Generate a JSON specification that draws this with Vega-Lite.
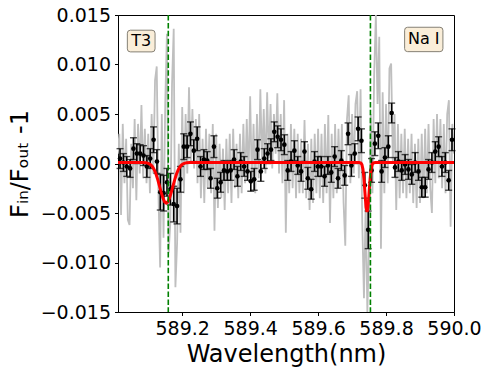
{
  "$schema": "https://vega.github.io/schema/vega-lite/v6.json",
  "autosize": {"type": "none"},
  "padding": {"left": 118, "top": 15, "right": 35, "bottom": 60},
  "width": 336,
  "height": 297,
  "background": "white",
  "datasets": {
    "spec": [
      {"w":589.010,"v":0.0010},{"w":589.015,"v":0.0030},{"w":589.020,"v":-0.0052},{"w":589.025,"v":0.0040},{"w":589.030,"v":-0.0020},
      {"w":589.035,"v":0.0025},{"w":589.040,"v":-0.0057},{"w":589.045,"v":-0.0062},{"w":589.050,"v":0.0020},{"w":589.055,"v":-0.0025},
      {"w":589.060,"v":0.0045},{"w":589.065,"v":-0.0037},{"w":589.070,"v":0.0040},{"w":589.075,"v":-0.0010},{"w":589.080,"v":0.0059},
      {"w":589.085,"v":-0.0015},{"w":589.090,"v":0.0035},{"w":589.095,"v":-0.0020},{"w":589.100,"v":0.0030},{"w":589.105,"v":-0.0030},
      {"w":589.110,"v":0.0050},{"w":589.115,"v":-0.0010},{"w":589.120,"v":0.0084},{"w":589.125,"v":0.0098},{"w":589.130,"v":-0.0030},
      {"w":589.135,"v":-0.0105},{"w":589.140,"v":0.0050},{"w":589.145,"v":-0.0075},{"w":589.150,"v":0.0060},{"w":589.155,"v":0.0131},
      {"w":589.160,"v":-0.0090},{"w":589.165,"v":-0.0060},{"w":589.170,"v":0.0080},{"w":589.175,"v":0.0136},{"w":589.180,"v":-0.0125},
      {"w":589.185,"v":-0.0080},{"w":589.190,"v":0.0020},{"w":589.195,"v":-0.0070},{"w":589.200,"v":0.0057},{"w":589.205,"v":-0.0030},
      {"w":589.210,"v":0.0050},{"w":589.215,"v":-0.0010},{"w":589.220,"v":0.0077},{"w":589.225,"v":0.0000},{"w":589.230,"v":0.0055},
      {"w":589.235,"v":-0.0005},{"w":589.240,"v":0.0045},{"w":589.245,"v":-0.0020},{"w":589.250,"v":0.0050},{"w":589.255,"v":-0.0035},
      {"w":589.260,"v":0.0025},{"w":589.265,"v":-0.0040},{"w":589.270,"v":0.0035},{"w":589.275,"v":-0.0025},{"w":589.280,"v":0.0030},
      {"w":589.285,"v":-0.0030},{"w":589.290,"v":0.0040},{"w":589.295,"v":-0.0068},{"w":589.300,"v":0.0030},{"w":589.305,"v":-0.0045},
      {"w":589.310,"v":0.0020},{"w":589.315,"v":-0.0035},{"w":589.320,"v":0.0015},{"w":589.325,"v":-0.0047},{"w":589.330,"v":0.0025},
      {"w":589.335,"v":-0.0030},{"w":589.340,"v":0.0030},{"w":589.345,"v":-0.0040},{"w":589.350,"v":0.0035},{"w":589.355,"v":-0.0025},
      {"w":589.360,"v":0.0020},{"w":589.365,"v":-0.0035},{"w":589.370,"v":0.0030},{"w":589.375,"v":-0.0030},{"w":589.380,"v":0.0040},
      {"w":589.385,"v":-0.0020},{"w":589.390,"v":0.0045},{"w":589.395,"v":-0.0015},{"w":589.400,"v":0.0068},{"w":589.405,"v":-0.0020},
      {"w":589.410,"v":0.0040},{"w":589.415,"v":-0.0030},{"w":589.420,"v":0.0050},{"w":589.425,"v":-0.0015},{"w":589.430,"v":0.0075},
      {"w":589.435,"v":0.0000},{"w":589.440,"v":0.0055},{"w":589.445,"v":-0.0010},{"w":589.450,"v":0.0072},{"w":589.455,"v":0.0005},
      {"w":589.460,"v":0.0060},{"w":589.465,"v":-0.0005},{"w":589.470,"v":0.0050},{"w":589.475,"v":0.0010},{"w":589.480,"v":0.0071},
      {"w":589.485,"v":-0.0010},{"w":589.490,"v":0.0050},{"w":589.495,"v":-0.0020},{"w":589.500,"v":0.0064},{"w":589.505,"v":-0.0070},
      {"w":589.510,"v":0.0030},{"w":589.515,"v":-0.0030},{"w":589.520,"v":0.0040},{"w":589.525,"v":-0.0025},{"w":589.530,"v":0.0035},
      {"w":589.535,"v":-0.0035},{"w":589.540,"v":0.0030},{"w":589.545,"v":-0.0030},{"w":589.550,"v":0.0025},{"w":589.555,"v":-0.0030},
      {"w":589.560,"v":0.0044},{"w":589.565,"v":-0.0035},{"w":589.570,"v":0.0020},{"w":589.575,"v":-0.0047},{"w":589.580,"v":0.0025},
      {"w":589.585,"v":-0.0040},{"w":589.590,"v":0.0030},{"w":589.595,"v":-0.0030},{"w":589.600,"v":0.0035},{"w":589.605,"v":-0.0035},
      {"w":589.610,"v":0.0030},{"w":589.615,"v":-0.0040},{"w":589.620,"v":0.0040},{"w":589.625,"v":-0.0030},{"w":589.630,"v":0.0049},
      {"w":589.635,"v":-0.0060},{"w":589.640,"v":0.0030},{"w":589.645,"v":-0.0035},{"w":589.650,"v":0.0040},{"w":589.655,"v":-0.0030},
      {"w":589.660,"v":0.0035},{"w":589.665,"v":-0.0025},{"w":589.670,"v":0.0040},{"w":589.675,"v":-0.0040},{"w":589.680,"v":-0.0083},
      {"w":589.685,"v":0.0045},{"w":589.690,"v":0.0069},{"w":589.695,"v":-0.0020},{"w":589.700,"v":0.0050},{"w":589.705,"v":-0.0010},
      {"w":589.710,"v":0.0060},{"w":589.715,"v":0.0073},{"w":589.720,"v":-0.0015},{"w":589.725,"v":0.0075},{"w":589.730,"v":-0.0060},
      {"w":589.735,"v":-0.0136},{"w":589.740,"v":-0.0040},{"w":589.745,"v":-0.0150},{"w":589.750,"v":-0.0080},{"w":589.755,"v":0.0050},
      {"w":589.760,"v":-0.0030},{"w":589.765,"v":0.0090},{"w":589.770,"v":0.0150},{"w":589.775,"v":0.0060},{"w":589.780,"v":0.0128},
      {"w":589.785,"v":-0.0086},{"w":589.790,"v":0.0072},{"w":589.795,"v":-0.0030},{"w":589.800,"v":0.0060},{"w":589.805,"v":-0.0020},
      {"w":589.810,"v":0.0096},{"w":589.815,"v":0.0101},{"w":589.820,"v":0.0000},{"w":589.825,"v":0.0050},{"w":589.830,"v":-0.0047},
      {"w":589.835,"v":0.0040},{"w":589.840,"v":-0.0035},{"w":589.845,"v":0.0030},{"w":589.850,"v":-0.0030},{"w":589.855,"v":0.0035},
      {"w":589.860,"v":-0.0035},{"w":589.865,"v":0.0025},{"w":589.870,"v":-0.0030},{"w":589.875,"v":0.0030},{"w":589.880,"v":-0.0040},
      {"w":589.885,"v":0.0020},{"w":589.890,"v":-0.0045},{"w":589.895,"v":0.0025},{"w":589.900,"v":-0.0040},{"w":589.905,"v":0.0030},
      {"w":589.910,"v":-0.0035},{"w":589.915,"v":0.0035},{"w":589.920,"v":-0.0030},{"w":589.925,"v":0.0040},{"w":589.930,"v":-0.0025},
      {"w":589.935,"v":-0.0050},{"w":589.940,"v":0.0045},{"w":589.945,"v":-0.0020},{"w":589.950,"v":0.0050},{"w":589.955,"v":-0.0015},
      {"w":589.960,"v":0.0045},{"w":589.965,"v":-0.0025},{"w":589.970,"v":0.0040},{"w":589.975,"v":-0.0030},{"w":589.980,"v":0.0050},
      {"w":589.985,"v":0.0064},{"w":589.990,"v":-0.0064},{"w":589.995,"v":0.0040},{"w":590.000,"v":0.0010}
    ],
    "binned": [
      {"w":589.0170,"v":0.0005,"e":0.0010},{"w":589.0269,"v":0.0001,"e":0.0009},{"w":589.0367,"v":-0.0003,"e":0.0010},{"w":589.0466,"v":-0.0005,"e":0.0009},{"w":589.0565,"v":0.0015,"e":0.0011},
      {"w":589.0664,"v":0.0010,"e":0.0010},{"w":589.0762,"v":0.0010,"e":0.0009},{"w":589.0861,"v":0.0008,"e":0.0010},{"w":589.0960,"v":-0.0003,"e":0.0011},{"w":589.1058,"v":0.0005,"e":0.0010},
      {"w":589.1157,"v":0.0024,"e":0.0013},{"w":589.1256,"v":0.0002,"e":0.0012},{"w":589.1354,"v":-0.0029,"e":0.0018},{"w":589.1453,"v":-0.0030,"e":0.0018},{"w":589.1552,"v":-0.0019,"e":0.0014},
      {"w":589.1651,"v":-0.0026,"e":0.0016},{"w":589.1749,"v":-0.0041,"e":0.0018},{"w":589.1848,"v":-0.0043,"e":0.0018},{"w":589.1947,"v":-0.0016,"e":0.0013},{"w":589.2045,"v":0.0017,"e":0.0013},
      {"w":589.2144,"v":0.0017,"e":0.0011},{"w":589.2243,"v":0.0030,"e":0.0012},{"w":589.2341,"v":0.0013,"e":0.0011},{"w":589.2440,"v":0.0025,"e":0.0012},{"w":589.2539,"v":-0.0003,"e":0.0010},
      {"w":589.2638,"v":0.0004,"e":0.0010},{"w":589.2736,"v":0.0003,"e":0.0009},{"w":589.2835,"v":-0.0015,"e":0.0010},{"w":589.2934,"v":0.0017,"e":0.0011},{"w":589.3032,"v":-0.0025,"e":0.0010},
      {"w":589.3131,"v":-0.0019,"e":0.0010},{"w":589.3230,"v":-0.0007,"e":0.0010},{"w":589.3328,"v":-0.0008,"e":0.0009},{"w":589.3427,"v":-0.0007,"e":0.0010},{"w":589.3526,"v":0.0004,"e":0.0010},
      {"w":589.3625,"v":-0.0013,"e":0.0010},{"w":589.3723,"v":0.0002,"e":0.0009},{"w":589.3822,"v":-0.0003,"e":0.0010},{"w":589.3921,"v":-0.0008,"e":0.0009},{"w":589.4019,"v":-0.0018,"e":0.0010},
      {"w":589.4118,"v":-0.0016,"e":0.0011},{"w":589.4217,"v":0.0014,"e":0.0010},{"w":589.4315,"v":-0.0008,"e":0.0010},{"w":589.4414,"v":0.0005,"e":0.0010},{"w":589.4513,"v":0.0010,"e":0.0010},
      {"w":589.4612,"v":0.0014,"e":0.0011},{"w":589.4710,"v":0.0032,"e":0.0010},{"w":589.4809,"v":0.0027,"e":0.0011},{"w":589.4908,"v":0.0024,"e":0.0011},{"w":589.5006,"v":0.0019,"e":0.0010},
      {"w":589.5105,"v":-0.0007,"e":0.0010},{"w":589.5204,"v":0.0002,"e":0.0010},{"w":589.5302,"v":0.0013,"e":0.0010},{"w":589.5401,"v":-0.0002,"e":0.0009},{"w":589.5500,"v":-0.0008,"e":0.0010},
      {"w":589.5599,"v":0.0012,"e":0.0010},{"w":589.5697,"v":-0.0015,"e":0.0011},{"w":589.5796,"v":-0.0026,"e":0.0010},{"w":589.5895,"v":0.0002,"e":0.0010},{"w":589.5993,"v":-0.0003,"e":0.0010},
      {"w":589.6092,"v":-0.0003,"e":0.0010},{"w":589.6191,"v":-0.0013,"e":0.0010},{"w":589.6289,"v":-0.0002,"e":0.0009},{"w":589.6388,"v":-0.0009,"e":0.0010},{"w":589.6487,"v":0.0007,"e":0.0010},
      {"w":589.6586,"v":-0.0015,"e":0.0010},{"w":589.6684,"v":0.0003,"e":0.0010},{"w":589.6783,"v":-0.0012,"e":0.0010},{"w":589.6882,"v":0.0030,"e":0.0011},{"w":589.6980,"v":-0.0002,"e":0.0011},
      {"w":589.7079,"v":0.0010,"e":0.0010},{"w":589.7178,"v":0.0035,"e":0.0012},{"w":589.7276,"v":0.0023,"e":0.0012},{"w":589.7375,"v":-0.0022,"e":0.0013},{"w":589.7474,"v":-0.0067,"e":0.0019},
      {"w":589.7573,"v":-0.0007,"e":0.0012},{"w":589.7671,"v":0.0020,"e":0.0012},{"w":589.7770,"v":0.0028,"e":0.0013},{"w":589.7869,"v":-0.0008,"e":0.0011},{"w":589.7967,"v":0.0006,"e":0.0010},
      {"w":589.8066,"v":0.0017,"e":0.0011},{"w":589.8165,"v":0.0051,"e":0.0010},{"w":589.8263,"v":-0.0004,"e":0.0010},{"w":589.8362,"v":0.0002,"e":0.0010},{"w":589.8461,"v":-0.0007,"e":0.0010},
      {"w":589.8560,"v":-0.0001,"e":0.0010},{"w":589.8658,"v":-0.0006,"e":0.0010},{"w":589.8757,"v":-0.0011,"e":0.0010},{"w":589.8856,"v":0.0001,"e":0.0010},{"w":589.8954,"v":-0.0008,"e":0.0009},
      {"w":589.9053,"v":-0.0024,"e":0.0010},{"w":589.9152,"v":-0.0024,"e":0.0010},{"w":589.9250,"v":-0.0006,"e":0.0010},{"w":589.9349,"v":0.0001,"e":0.0010},{"w":589.9448,"v":0.0012,"e":0.0010},
      {"w":589.9547,"v":0.0017,"e":0.0010},{"w":589.9645,"v":-0.0003,"e":0.0010},{"w":589.9744,"v":0.0001,"e":0.0010},{"w":589.9843,"v":-0.0017,"e":0.0010},{"w":589.9941,"v":0.0024,"e":0.0011}
    ],
    "model": [
      {"w":589.000,"v":0.0001},{"w":589.083,"v":0.0001},{"w":589.093,"v":0.00007},{"w":589.098,"v":0.00004},{"w":589.103,"v":-0.00003},
      {"w":589.108,"v":-0.00015},{"w":589.113,"v":-0.00035},{"w":589.118,"v":-0.00065},{"w":589.123,"v":-0.00108},{"w":589.128,"v":-0.00163},
      {"w":589.133,"v":-0.00226},{"w":589.138,"v":-0.00290},{"w":589.143,"v":-0.00347},{"w":589.148,"v":-0.00386},{"w":589.153,"v":-0.00400},
      {"w":589.158,"v":-0.00386},{"w":589.163,"v":-0.00347},{"w":589.168,"v":-0.00290},{"w":589.173,"v":-0.00226},{"w":589.178,"v":-0.00163},
      {"w":589.183,"v":-0.00108},{"w":589.188,"v":-0.00065},{"w":589.193,"v":-0.00035},{"w":589.198,"v":-0.00015},{"w":589.203,"v":-0.00003},
      {"w":589.208,"v":0.00004},{"w":589.213,"v":0.00007},{"w":589.223,"v":0.0001},
      {"w":589.720,"v":0.0001},{"w":589.726,"v":0.00004},{"w":589.729,"v":-0.00012},{"w":589.732,"v":-0.00059},{"w":589.735,"v":-0.00156},
      {"w":589.738,"v":-0.00300},{"w":589.741,"v":-0.00440},{"w":589.744,"v":-0.00490},{"w":589.747,"v":-0.00440},{"w":589.750,"v":-0.00300},
      {"w":589.753,"v":-0.00156},{"w":589.756,"v":-0.00059},{"w":589.759,"v":-0.00012},{"w":589.762,"v":0.00004},{"w":589.768,"v":0.0001},
      {"w":590.010,"v":0.0001}
    ],
    "lines": [{"w":589.159},{"w":589.754}]
  },
  "encoding": {
    "x": {"field":"w","type":"quantitative","scale":{"domain":[589.011,590.0],"nice":false,"zero":false},
      "axis":{"title":"Wavelength(nm)","values":[589.2,589.4,589.6,589.8,590.0],"format":".1f","titlePadding":4,"labelOverlap":false,"labelFlush":false}},
    "y": {"field":"v","type":"quantitative","scale":{"domain":[-0.015,0.015],"nice":false,"zero":false},
      "axis":{"title":"Fᵢₙ/Fₒᵤₜ -1","values":[-0.015,-0.01,-0.005,0,0.005,0.01,0.015],"format":".3f","titlePadding":8,"labelOverlap":false,"labelFlush":false}}
  },
  "layer": [
    {"data":{"name":"spec"},"mark":{"type":"line","color":"#bfbfbf","strokeWidth":1.8,"clip":true}},
    {"data":{"name":"binned"},"mark":{"type":"errorbar","color":"black","thickness":1.6,"ticks":{"size":7,"thickness":1.4,"color":"black"}},
      "encoding":{"yError":{"field":"e"}}},
    {"data":{"name":"binned"},"mark":{"type":"point","filled":true,"color":"black","size":22,"opacity":1}},
    {"data":{"name":"model"},"mark":{"type":"line","color":"red","strokeWidth":3,"clip":true}},
    {"data":{"name":"lines"},"mark":{"type":"rule","color":"green","strokeWidth":1.6,"strokeDash":[5.5,2.4]},"encoding":{"y":null}},
    {"data":{"values":[{"w":589.0793,"v":0.01237}]},
      "mark":{"type":"point","shape":"M-0.78,-0.783L0.78,-0.783Q1,-0.783,1,-0.566L1,0.566Q1,0.783,0.78,0.783L-0.78,0.783Q-1,0.783,-1,0.566L-1,-0.566Q-1,-0.783,-0.78,-0.783Z","size":767,"filled":true,"fill":"#faeed9","stroke":"#858075","strokeWidth":1,"opacity":1}},
    {"data":{"values":[{"w":589.0793,"v":0.01237,"label":"T3"}]},
      "mark":{"type":"text","font":"DejaVu Sans","fontSize":16,"color":"black","align":"center","baseline":"middle"},
      "encoding":{"text":{"field":"label"}}},
    {"data":{"values":[{"w":589.911,"v":0.01253}]},
      "mark":{"type":"point","shape":"M-0.843,-0.637L0.843,-0.637Q1,-0.637,1,-0.48L1,0.48Q1,0.637,0.843,0.637L-0.843,0.637Q-1,0.637,-1,0.48L-1,-0.48Q-1,-0.637,-0.843,-0.637Z","size":1467,"filled":true,"fill":"#faeed9","stroke":"#858075","strokeWidth":1,"opacity":1}},
    {"data":{"values":[{"w":589.911,"v":0.01253,"label":"Na I"}]},
      "mark":{"type":"text","font":"DejaVu Sans","fontSize":16,"color":"black","align":"center","baseline":"middle"},
      "encoding":{"text":{"field":"label"}}}
  ],
  "config": {
    "view": {"stroke":"black","strokeWidth":1},
    "axis": {"domainColor":"black","tickColor":"black","labelColor":"black","titleColor":"black",
      "labelFont":"DejaVu Sans","titleFont":"DejaVu Sans","labelFontSize":19,"titleFontSize":24,"titleFontWeight":"normal",
      "grid":false,"tickSize":3.5,"tickWidth":1,"labelPadding":4,"domainWidth":1}
  }
}
